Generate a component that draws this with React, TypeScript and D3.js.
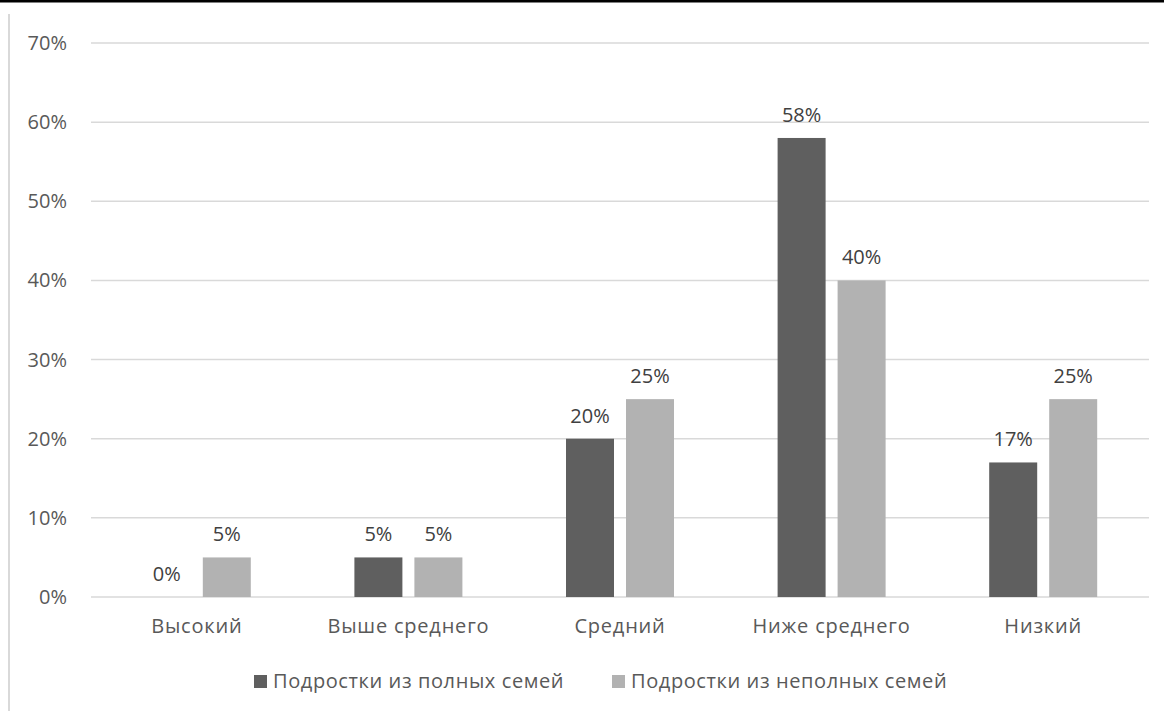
import * as d3 from "d3";

const categories = ["Высокий", "Выше среднего", "Средний", "Ниже среднего", "Низкий"];
const fullFamilies = [0, 5, 20, 58, 17];
const incompleteFamilies = [5, 5, 25, 40, 25];
const seriesNames = ["Подростки из полных семей", "Подростки из неполных семей"];
const yTicks = [0, 10, 20, 30, 40, 50, 60, 70];

const W = 1164;
const H = 711;
const colors = ["#5f5f5f", "#b2b2b2"];
const font = "'Open Sans', 'Noto Sans', sans-serif";

export default function App() {
    const x = d3.scaleBand<string>(categories, [91, 1149]);
    const y = d3.scaleLinear([0, 70], [597, 43]);
    const barW = 48;
    const gap = 12;
    const series = [fullFamilies, incompleteFamilies];
    const legendX = [254, 612];

    return (
        <svg width={W} height={H} style={{ position: "absolute", left: 0, top: 0, background: "#fff" }} fontFamily={font}>
            <rect x={0} y={0} width={W} height={H} fill="#fff" />
            <line x1={0} x2={W} y1={1} y2={1} stroke="#000" strokeWidth={3} />
            <line x1={9} x2={9} y1={14} y2={H} stroke="#d9d9d9" strokeWidth={2} />
            <g>
                {yTicks.map((t) => (
                    <g key={t}>
                        <line x1={91} x2={1149} y1={y(t)} y2={y(t)} stroke="#d9d9d9" strokeWidth={1.5} />
                        <text x={67} y={y(t)} dy="0.35em" textAnchor="end" fontSize={20} fill="#595959">{t}%</text>
                    </g>
                ))}
            </g>
            {series.map((vals, si) => (
                <g key={si} fill={colors[si]}>
                    {vals.map((v, i) => {
                        const c = (x(categories[i]) as number) + x.bandwidth() / 2;
                        const bx = si === 0 ? c - gap / 2 - barW : c + gap / 2;
                        return (
                            <g key={i}>
                                <rect x={bx} y={y(v)} width={barW} height={y(0) - y(v)} />
                                <text x={bx + barW / 2} y={y(v) - 16} textAnchor="middle" fontSize={20} fill="#404040">{v}%</text>
                            </g>
                        );
                    })}
                </g>
            ))}
            {categories.map((c) => (
                <text key={c} x={(x(c) as number) + x.bandwidth() / 2} y={633} textAnchor="middle" fontSize={20} letterSpacing={0.8} fill="#595959">{c}</text>
            ))}
            {seriesNames.map((n, i) => (
                <g key={n}>
                    <rect x={legendX[i]} y={675} width={13} height={13} fill={colors[i]} />
                    <text x={legendX[i] + 19} y={688} fontSize={20} letterSpacing={0.6} fill="#595959">{n}</text>
                </g>
            ))}
        </svg>
    );
}
